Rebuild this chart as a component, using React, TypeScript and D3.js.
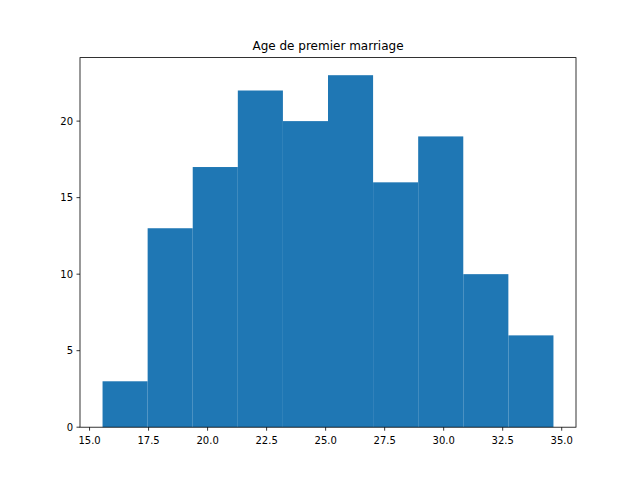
import * as d3 from "d3";

const binEdges = [15.55, 17.46, 19.37, 21.28, 23.19, 25.1, 27.01, 28.92, 30.83, 32.74, 34.65];
const counts = [3, 13, 17, 22, 20, 23, 16, 19, 10, 6];
const xTicks = [15, 17.5, 20, 22.5, 25, 27.5, 30, 32.5, 35];
const yTicks = [0, 5, 10, 15, 20];
const title = "Age de premier marriage";

export default function App() {
  const W = 640, H = 480;
  const L = 80, R = 576, T = 57.6, B = 427.2;
  const lo = binEdges[0], hi = binEdges[binEdges.length - 1];
  const pad = (hi - lo) * 0.05;
  const x = d3.scaleLinear().domain([lo - pad, hi + pad]).range([L, R]);
  const y = d3.scaleLinear().domain([0, d3.max(counts)! * 1.05]).range([B, T]);
  const font = "DejaVu Sans, sans-serif";
  return (
    <svg width={W} height={H} style={{ position: "absolute", left: 0, top: 0, background: "#fff" }}>
      {counts.map((c, i) => (
        <rect key={i} x={x(binEdges[i])} width={x(binEdges[i + 1]) - x(binEdges[i])}
          y={y(c)} height={B - y(c)} fill="#1f77b4" />
      ))}
      <rect x={L} y={T} width={R - L} height={B - T} fill="none" stroke="#000" strokeWidth={0.8} />
      {xTicks.map((t) => (
        <g key={t} transform={`translate(${x(t)},${B})`}>
          <line y2={3.5} stroke="#000" strokeWidth={0.8} />
          <text y={17} textAnchor="middle" fontSize={10} fontFamily={font}>{t.toFixed(1)}</text>
        </g>
      ))}
      {yTicks.map((t) => (
        <g key={t} transform={`translate(${L},${y(t)})`}>
          <line x2={-3.5} stroke="#000" strokeWidth={0.8} />
          <text x={-7} dy="0.35em" textAnchor="end" fontSize={10} fontFamily={font}>{t}</text>
        </g>
      ))}
      <text x={(L + R) / 2} y={T - 8} textAnchor="middle" fontSize={12} fontFamily={font}>{title}</text>
    </svg>
  );
}
